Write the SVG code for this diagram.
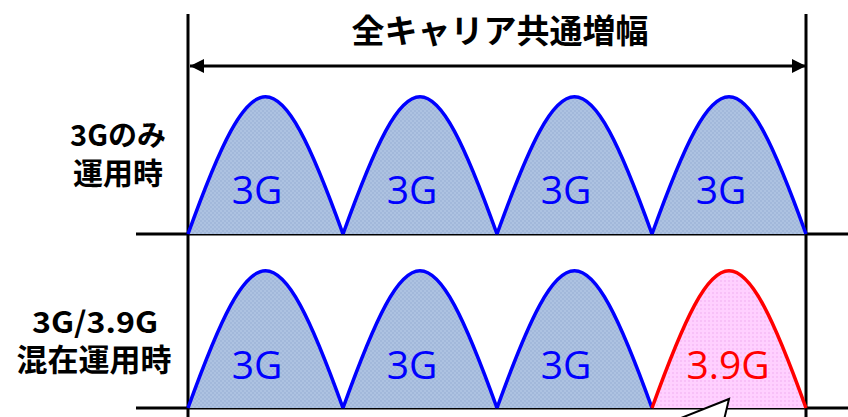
<svg xmlns="http://www.w3.org/2000/svg" width="848" height="417" viewBox="0 0 848 417">
<style>
.ax{stroke:#000;stroke-width:3;fill:none}
.h3{fill:url(#pb);stroke:#0000ff;stroke-width:3.5;stroke-linejoin:round}
.h39{fill:url(#pp);stroke:#ff0000;stroke-width:3.5;stroke-linejoin:round}
.lb{font-family:"Noto Sans CJK JP","Noto Sans",sans-serif;font-weight:bold;fill:#000;text-anchor:middle}
.g3{font-family:"Open Sans","Noto Sans",sans-serif;font-size:39px;fill:#0000ff;text-anchor:middle}
.g39{font-family:"Open Sans","Noto Sans",sans-serif;font-size:39px;fill:#ff0000;text-anchor:middle}
</style>
<defs>
<pattern id="pb" width="4" height="4" patternUnits="userSpaceOnUse">
<rect width="4" height="4" fill="#adc2e1"/>
<rect width="2" height="2" fill="#a2b8da"/>
<rect x="2" y="2" width="2" height="2" fill="#a2b8da"/>
</pattern>
<pattern id="pp" width="4" height="4" patternUnits="userSpaceOnUse">
<rect width="4" height="4" fill="#ffd0ff"/>
<rect width="2" height="2" fill="#f8c0f8"/>
</pattern>
<marker id="ah" viewBox="0 0 14 14" refX="14" refY="7" markerWidth="14" markerHeight="14" markerUnits="userSpaceOnUse" orient="auto-start-reverse">
<path d="M0,0 L14,7 L0,14 Z" fill="#000"/>
</marker>
</defs>
<g id="title"><text class="lb" x="500" y="43" font-size="33">全キャリア共通増幅</text></g>
<g id="labels">
<text class="lb" x="118" y="146" font-size="29">3Gのみ</text>
<text class="lb" x="118" y="184" font-size="30">運用時</text>
<text class="lb" x="95" y="333" font-size="29" textLength="126" lengthAdjust="spacingAndGlyphs">3G/3.9G</text>
<text class="lb" x="94" y="371" font-size="31">混在運用時</text>
</g>
<g id="connectors">
<line class="ax" x1="188" y1="14" x2="188" y2="417"/>
<line class="ax" x1="806" y1="14" x2="806" y2="417"/>
<line class="ax" x1="136" y1="234" x2="848" y2="234"/>
<line class="ax" x1="136" y1="408" x2="848" y2="408"/>
<line x1="190" y1="66" x2="806" y2="66" stroke="#000" stroke-width="3" marker-start="url(#ah)" marker-end="url(#ah)"/>
</g>
<g id="row1">
<path class="h3" d="M188,234 C254,51 277,51 343,234"/>
<path class="h3" d="M343,234 C409,51 431,51 497,234"/>
<path class="h3" d="M497,234 C563,51 586,51 652,234"/>
<path class="h3" d="M652,234 C718,51 740,51 806,234"/>
<text class="g3" x="257" y="204">3G</text>
<text class="g3" x="412" y="204">3G</text>
<text class="g3" x="566" y="204">3G</text>
<text class="g3" x="721" y="204">3G</text>
</g>
<g id="row2">
<path class="h3" d="M188,408 C254,225 277,225 343,408"/>
<path class="h3" d="M343,408 C409,225 431,225 497,408"/>
<path class="h3" d="M497,408 C563,225 586,225 652,408"/>
<path class="h39" d="M652,408 C718,225 740,225 806,408"/>
<text class="g3" x="257" y="379">3G</text>
<text class="g3" x="412" y="379">3G</text>
<text class="g3" x="566" y="379">3G</text>
<text class="g39" x="728" y="379">3.9G</text>
</g>
<g id="callout">
<path d="M676,420 L729,399 L724,420" fill="#fff" stroke="#000" stroke-width="2" stroke-linejoin="miter"/>
</g>
</svg>
